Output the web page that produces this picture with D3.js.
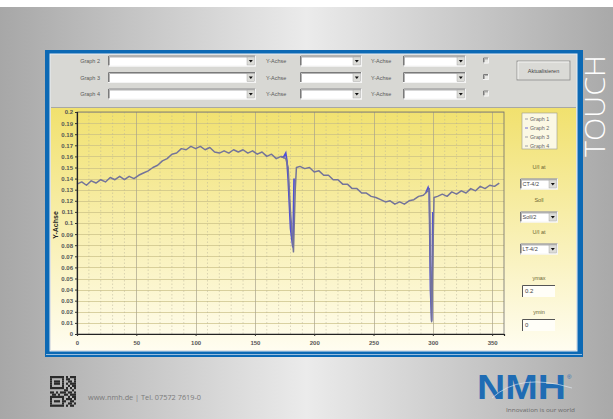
<!DOCTYPE html>
<html><head><meta charset="utf-8">
<script src="https://cdn.jsdelivr.net/npm/d3@7"></script>
<style>html,body{margin:0;padding:0;background:#fff;overflow:hidden}svg{display:block}</style>
</head><body>
<svg id="c" width="613" height="419"></svg>
<script>
// ---------- data ----------
const sampleX = [0,4,8,12,16,20,24,28,32,36,40,44,48,52,56,60,64,68,72,76,80,84,88,92,96,100,104,108,112,116,120,124,128,132,136,140,144,148,152,156,160,164,168,172,176,178,180,182.5,184,185,188,192,196,200,204,208,212,216,220,224,228,232,236,240,244,248,252,256,260,264,268,272,276,280,284,288,292,296,297,298,299,300,301,304,308,312,316,320,324,328,332,336,340,344,348,352,356];
const graph1 = [0.135,0.137,0.134,0.138,0.136,0.139,0.137,0.141,0.139,0.142,0.139,0.142,0.140,0.143,0.145,0.147,0.150,0.152,0.156,0.158,0.162,0.163,0.167,0.166,0.169,0.167,0.169,0.166,0.168,0.164,0.163,0.165,0.163,0.166,0.164,0.166,0.163,0.165,0.162,0.164,0.160,0.162,0.158,0.160,0.158,0.150,0.110,0.074,0.130,0.150,0.151,0.149,0.150,0.146,0.147,0.143,0.143,0.139,0.139,0.135,0.135,0.131,0.131,0.127,0.127,0.124,0.123,0.121,0.119,0.120,0.117,0.119,0.117,0.120,0.121,0.124,0.125,0.129,0.131,0.060,0.011,0.070,0.123,0.124,0.126,0.124,0.128,0.126,0.129,0.127,0.131,0.129,0.133,0.131,0.134,0.133,0.136];
const graph2X = [172,174,176,177,178,180,182,183, null, 294,296,297,298,299,300];
const graph2 = [0.160,0.159,0.163,0.156,0.140,0.095,0.078,0.140, null, 0.127,0.132,0.128,0.040,0.012,0.110];
const yTickValues = [0,0.01,0.02,0.03,0.04,0.05,0.06,0.07,0.08,0.09,0.1,0.11,0.12,0.13,0.14,0.15,0.16,0.17,0.18,0.19,0.2];
const xTickValues = [0,50,100,150,200,250,300,350];
const rowLabels = ["Graph 2","Graph 3","Graph 4"];
const legendLabels = ["Graph 1","Graph 2","Graph 3","Graph 4"];
const sideLabels = ["U/I at","Soll","U/I at"];
const sideValues = ["CT-4/2","Soll/2","LT-4/2"];
const limitLabels = ["ymax","ymin"];
const limitValues = ["0.2","0"];
const qrRows = ["1111111010111","1000001011001","1011101001101","1011101010111","1000001001011","1111111010101","0000000110010","1101011101101","0110100110111","1111111001011","1000001011101","1011101100110","1000001001101","1111111010110"];

// ---------- drawing ----------
const svg = d3.select("#c");
const defs = svg.append("defs");
const bg = defs.append("linearGradient").attr("id","bg").attr("x1","0").attr("x2","1").attr("y1","0").attr("y2","0");
bg.append("stop").attr("offset","0").attr("stop-color","#a7a7a7");
bg.append("stop").attr("offset","0.5").attr("stop-color","#ebebeb");
bg.append("stop").attr("offset","1").attr("stop-color","#a9a9a9");
const yg = defs.append("linearGradient").attr("id","yg").attr("x1","0").attr("x2","0").attr("y1","0").attr("y2","1");
yg.append("stop").attr("offset","0").attr("stop-color","#f1e16e");
yg.append("stop").attr("offset","0.5").attr("stop-color","#f8efb0");
yg.append("stop").attr("offset","1").attr("stop-color","#fffdf0");

svg.append("rect").attr("width",613).attr("height",419).attr("fill","url(#bg)");
svg.append("rect").attr("width",613).attr("height",7).attr("fill","#ffffff");

// frame
svg.append("rect").attr("x",45).attr("y",50).attr("width",538).attr("height",307).attr("fill","#0c69b4");
svg.append("rect").attr("x",50).attr("y",54).attr("width",527).attr("height",297).attr("fill","#d8d8d4").attr("stroke","#e8eef4").attr("stroke-width",1);
svg.append("line").attr("x1",46).attr("x2",582).attr("y1",354.5).attr("y2",354.5).attr("stroke","#bcd4ea").attr("stroke-width",0.8);

// chart area
svg.append("rect").attr("x",51).attr("y",108).attr("width",525).attr("height",242).attr("fill","url(#yg)");
svg.append("line").attr("x1",51).attr("x2",576).attr("y1",107.5).attr("y2",107.5).attr("stroke","#a8a8a4");

const x = d3.scaleLinear().domain([0,360]).range([77,504]);
const y = d3.scaleLinear().domain([0,0.2]).range([334,112]);

// grid
const g = svg.append("g");
g.selectAll(".hg").data(yTickValues).join("line")
  .attr("x1",x(0)).attr("x2",x(360)).attr("y1",d=>Math.round(y(d))+0.5).attr("y2",d=>Math.round(y(d))+0.5)
  .attr("stroke","#c9bf85").attr("stroke-width",0.7);
g.selectAll(".vm").data(d3.range(10,360,10).filter(v=>v%50)).join("line")
  .attr("x1",d=>x(d)).attr("x2",d=>x(d)).attr("y1",y(0.2)).attr("y2",y(0))
  .attr("stroke","#b9b398").attr("stroke-width",0.5).attr("stroke-dasharray","1.5,2");
g.selectAll(".vM").data(xTickValues.slice(1)).join("line")
  .attr("x1",d=>Math.round(x(d))+0.5).attr("x2",d=>Math.round(x(d))+0.5).attr("y1",y(0.2)).attr("y2",y(0))
  .attr("stroke","#a9a48c").attr("stroke-width",0.7);

// lines
const line = d3.line().defined(d=>d[1]!==null).x(d=>x(d[0])).y(d=>y(d[1]));
svg.append("path").datum(graph2X.map((v,i)=>[v,graph2[i]]))
  .attr("d",line).attr("fill","none").attr("stroke","#4f4fd6").attr("stroke-width",1.7);
svg.append("path").datum(sampleX.map((v,i)=>[v,graph1[i]]))
  .attr("d",line).attr("fill","none").attr("stroke","#74749a").attr("stroke-width",1.5).attr("stroke-linejoin","round");

// plot border
svg.append("rect").attr("x",77).attr("y",112).attr("width",427).attr("height",222).attr("fill","none").attr("stroke","#6e6e6e").attr("stroke-width",0.8);

// axes
const ax = svg.append("g").attr("transform","translate(77,0)")
  .call(d3.axisLeft(y).tickValues(yTickValues).tickSize(2).tickPadding(2).tickFormat(d=>d===0?"0":d3.format(".2~f")(d)));
const bx = svg.append("g").attr("transform","translate(0,334)")
  .call(d3.axisBottom(x).tickValues(xTickValues).tickSize(2).tickPadding(5));
[ax,bx].forEach(a=>{
  a.select(".domain").attr("stroke","#222").attr("stroke-width",1.2);
  a.selectAll(".tick line").attr("stroke","#333");
  a.selectAll("text").attr("font-family","Liberation Sans, Arial").attr("font-size",6).attr("fill","#555").attr("font-weight","bold");
});
svg.append("text").attr("transform","translate(58,225) rotate(-90)").attr("text-anchor","middle")
  .attr("font-family","Liberation Sans, Arial").attr("font-size",7).attr("font-weight","bold").attr("fill","#222").text("Y-Achse");

// widgets
function sunken(x0,y0,w,h,fill){
  const gg = svg.append("g");
  gg.append("rect").attr("x",x0).attr("y",y0).attr("width",w).attr("height",h).attr("fill",fill||"#fff");
  gg.append("path").attr("d",`M${x0+0.5},${y0+h}V${y0+0.5}H${x0+w}`).attr("fill","none").attr("stroke","#7a7a7a").attr("stroke-width",1);
  gg.append("path").attr("d",`M${x0+1.5},${y0+h-1}V${y0+1.5}H${x0+w-1}`).attr("fill","none").attr("stroke","#a0a0a0").attr("stroke-width",0.8);
  gg.append("path").attr("d",`M${x0},${y0+h-0.5}H${x0+w-0.5}V${y0}`).attr("fill","none").attr("stroke","#f4f4f4").attr("stroke-width",1);
  return gg;
}
function dropdown(x0,yc,w,label){
  const h=11, y0=yc-h/2;
  const gg = sunken(x0,y0,w,h,"#fff");
  gg.append("rect").attr("x",x0+w-9).attr("y",y0+1.5).attr("width",7.5).attr("height",h-3).attr("fill","#dcdcd8").attr("stroke","#999").attr("stroke-width",0.4);
  gg.append("path").attr("d",`M${x0+w-7.2},${yc-1}h4l-2,2.5z`).attr("fill","#111");
  if(label) gg.append("text").attr("x",x0+2.5).attr("y",yc+2).attr("font-family","Liberation Sans, Arial").attr("font-size",5.5).attr("fill","#444").text(label);
}
const rowY = [61,77.5,94];
const fnt = "Liberation Sans, Arial";
rowLabels.forEach((lab,i)=>{
  const yc = rowY[i];
  svg.append("text").attr("x",100).attr("y",yc+2).attr("text-anchor","end").attr("font-family",fnt).attr("font-size",5.5).attr("fill","#5a5a5a").text(lab);
  dropdown(108,yc,148);
  svg.append("text").attr("x",266).attr("y",yc+2).attr("font-family",fnt).attr("font-size",5.5).attr("fill","#5a5a5a").text("Y-Achse");
  dropdown(300,yc,62);
  svg.append("text").attr("x",371).attr("y",yc+2).attr("font-family",fnt).attr("font-size",5.5).attr("fill","#5a5a5a").text("Y-Achse");
  dropdown(403,yc,63);
  sunken(483,yc-3.5,6,6,"#e8e8e4");
});
// button
svg.append("rect").attr("x",517).attr("y",61).attr("width",53).attr("height",19).attr("fill","#dadad6").attr("stroke","#8c8c8c").attr("stroke-width",0.8);
svg.append("path").attr("d","M518,79V62H569").attr("fill","none").attr("stroke","#fafafa").attr("stroke-width",0.8);
svg.append("text").attr("x",543.5).attr("y",72.5).attr("text-anchor","middle").attr("font-family",fnt).attr("font-size",5.5).attr("fill","#444").text("Aktualisieren");

// legend
svg.append("rect").attr("x",522).attr("y",113).attr("width",35).attr("height",36).attr("fill","#fbf8e4").attr("stroke","#9a9a90").attr("stroke-width",0.6);
legendLabels.forEach((lab,i)=>{
  const yy = 119+i*9;
  svg.append("line").attr("x1",525).attr("x2",528).attr("y1",yy).attr("y2",yy).attr("stroke",i===1?"#4f4fd6":"#8a8a9a").attr("stroke-width",0.8);
  svg.append("text").attr("x",530).attr("y",yy+2).attr("font-family",fnt).attr("font-size",5.3).attr("fill","#666").text(lab);
});
// side controls
const sideY = [167,200,232];
sideLabels.forEach((lab,i)=>{
  svg.append("text").attr("x",539).attr("y",sideY[i]+2).attr("text-anchor","middle").attr("font-family",fnt).attr("font-size",5.5).attr("fill","#6b6630").text(lab);
  dropdown(520,sideY[i]+17,38,sideValues[i]);
});
const limY = [278,312];
limitLabels.forEach((lab,i)=>{
  svg.append("text").attr("x",539).attr("y",limY[i]+2).attr("text-anchor","middle").attr("font-family",fnt).attr("font-size",5.5).attr("fill","#6b6630").text(lab);
  const yy = limY[i]+7;
  svg.append("rect").attr("x",522).attr("y",yy).attr("width",33).attr("height",12).attr("fill","#fffef8");
  svg.append("path").attr("d",`M522.5,${yy+12}V${yy+0.5}H555`).attr("fill","none").attr("stroke","#555").attr("stroke-width",1);
  svg.append("text").attr("x",525).attr("y",yy+8).attr("font-family",fnt).attr("font-size",6).attr("fill","#444").text(limitValues[i]);
});

// TOUCH
svg.append("text").attr("transform","translate(605,157) rotate(-90)").attr("font-family","Open Sans").attr("font-weight",300)
  .attr("font-size",28).attr("fill","#ffffff").attr("textLength",102).attr("lengthAdjust","spacingAndGlyphs").text("TOUCH");

// footer
const qr = svg.append("g").attr("transform","translate(50,376)");
qrRows.forEach((row,r)=>{
  row.split("").forEach((c,k)=>{
    if(c==="1") qr.append("rect").attr("x",k*2).attr("y",r*2.2).attr("width",2).attr("height",2.2).attr("fill","#2a2a2a");
  });
});
svg.append("text").attr("x",88).attr("y",400).attr("font-family","Open Sans").attr("font-size",7).attr("fill","#7a7a7a")
  .attr("textLength",113).attr("lengthAdjust","spacingAndGlyphs").text("www.nmh.de | Tel. 07572 7619-0");
svg.append("text").attr("x",477).attr("y",399).attr("font-family","Liberation Sans, Arial").attr("font-weight","bold").attr("font-size",35)
  .attr("fill","#1f6cb4").attr("textLength",89).attr("lengthAdjust","spacingAndGlyphs").text("NMH");
svg.append("path").attr("d","M492,398 Q520,372 572,388").attr("fill","none").attr("stroke","#e6eef6").attr("stroke-width",0.6);
svg.append("text").attr("x",567).attr("y",379).attr("font-family",fnt).attr("font-size",6).attr("fill","#1f6cb4").text("®");
svg.append("text").attr("x",506).attr("y",412).attr("font-family","Open Sans").attr("font-size",5.5).attr("fill","#6a6a6a")
  .attr("textLength",69).attr("lengthAdjust","spacingAndGlyphs").text("Innovation is our world");
</script>
</body></html>
